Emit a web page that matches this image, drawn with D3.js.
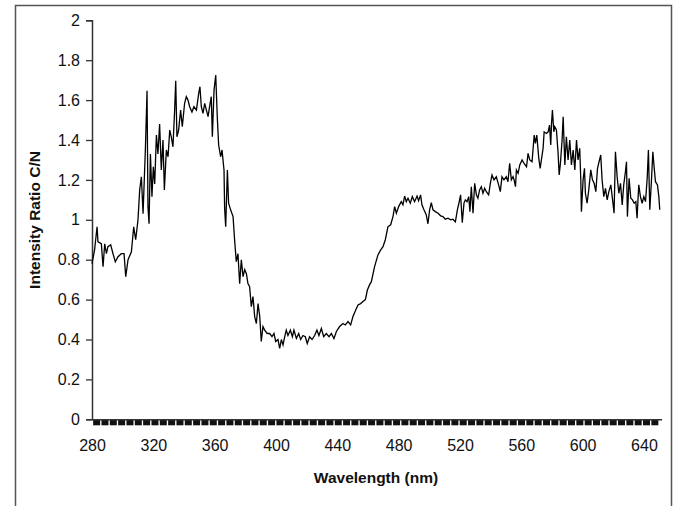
<!DOCTYPE html>
<html>
<head>
<meta charset="utf-8">
<script src="https://cdn.jsdelivr.net/npm/d3@7"></script>
<style>
  body { margin: 0; background: #fff; }
  svg { display: block; font-family: "Liberation Sans", Arial, sans-serif; }
</style>
</head>
<body>
<svg id="chart" width="675" height="506"></svg>
<script>
// C/N intensity ratio vs wavelength as [nm, ratio]
const uvBand = [
  [280.0,0.78],[281.7,0.85],[283.3,0.965],[283.9,0.89],[286.1,0.88],[287.2,0.765],[288.3,0.88],[289.4,0.83],
  [290.4,0.865],[292.2,0.875],[293.7,0.83],[295.2,0.79],[297.0,0.815],[299.1,0.83],[300.9,0.83],[302.0,0.715],
  [303.5,0.80],[305.7,0.84],[307.2,0.965],[308.5,0.90],[310.0,1.0],[311.1,1.15],[312.2,1.216],[313.3,1.03],
  [314.8,1.35],[315.9,1.647],[316.5,1.066],[317.2,0.98],[318.1,1.33],[319.1,1.116],[320.0,1.266],[320.9,1.18],
  [322.0,1.425],[323.0,1.33],[324.1,1.48],[325.2,1.25],[326.3,1.40],[327.2,1.15],[328.5,1.35],[329.6,1.316],
  [330.7,1.45],[331.7,1.416],[332.8,1.366],[333.9,1.55],[334.6,1.697],[335.4,1.416],[336.5,1.45],[337.8,1.55],
  [338.9,1.467],[340.4,1.584],[341.5,1.617],[342.6,1.60],[343.7,1.567],[345.2,1.54],[346.5,1.567],[348.1,1.55],
  [349.6,1.634],[350.4,1.667],[351.3,1.567],[352.4,1.534],[353.5,1.584],[354.6,1.55],[355.7,1.517],[356.7,1.567],
  [357.8,1.617],[358.5,1.416],[359.6,1.65],[360.7,1.726],[361.7,1.517],[362.6,1.375],[363.9,1.316],[364.8,1.35],
  [366.1,1.25],[366.5,1.058],[367.2,0.965],[368.3,1.25],[369.1,1.083],[370.4,1.05]
];

const trough = [
  [372.0,1.016],[373.0,0.90],[374.1,0.79],[375.2,0.83],[376.3,0.68],[377.4,0.80],[378.5,0.715],[379.6,0.75],
  [380.7,0.73],[381.7,0.68],[382.8,0.665],[383.9,0.565],[385.0,0.615],[386.1,0.515],[387.2,0.48],[388.3,0.58],
  [389.4,0.515],[390.4,0.39],[391.5,0.465],[392.6,0.447],[394.3,0.43],[395.9,0.43],[397.4,0.414],[398.7,0.43],
  [399.8,0.39],[401.3,0.40],[402.4,0.356],[403.5,0.40],[404.6,0.373],[405.7,0.414],[406.7,0.447],[407.8,0.42],
  [409.4,0.447],[410.7,0.414],[411.7,0.447],[413.3,0.405],[414.8,0.43],[416.1,0.40],[417.6,0.42],[419.1,0.414],
  [420.4,0.38],[421.9,0.414],[423.5,0.40],[425.2,0.42],[426.7,0.447],[428.0,0.42],[429.6,0.455],[431.1,0.414],
  [432.8,0.43],[434.6,0.414],[436.1,0.43],[437.8,0.405],[439.4,0.44],[441.5,0.465],[443.7,0.48],[445.2,0.473],
  [447.0,0.49],[448.7,0.473],[450.2,0.515],[452.0,0.548],[453.5,0.573],[455.2,0.58],[456.7,0.59],[458.3,0.60],
  [459.6,0.648],[461.1,0.675]
];

const shoulder = [
  [462.2,0.69],[464.3,0.765],[466.5,0.824],[468.3,0.849],[469.8,0.865],[471.3,0.90],[473.0,0.965],[474.8,0.975],
  [476.3,1.016],[477.4,1.066],[478.5,1.033],[480.0,1.066],[481.7,1.091],[482.8,1.075],[483.9,1.119],[485.0,1.091],
  [486.1,1.108],[487.6,1.083],[488.9,1.116],[490.4,1.091],[492.0,1.119],[493.0,1.096],[494.3,1.125],[495.2,1.075],
  [496.5,1.05],[498.0,1.025],[499.1,0.98],[500.2,1.05],[501.3,1.086],[502.4,1.05],[503.9,1.041],[505.7,1.033],
  [507.4,1.02],[508.9,1.016],[510.4,1.003],[512.2,1.008],[513.9,1.0],[515.4,1.003],[517.0,0.99],[518.3,1.05],
  [519.3,1.083],[520.4,1.125],[521.5,0.985],[522.6,1.083],[523.5,1.10],[524.6,1.091],[525.7,1.116],[526.5,1.041],
  [527.4,1.166],[528.5,1.033],[529.6,1.183],[530.7,1.125],[531.7,1.108],[532.8,1.15],[533.9,1.166],[535.0,1.133],
  [536.1,1.158],[537.2,1.141],[538.7,1.125],[539.8,1.183],[540.9,1.225],[542.2,1.2],[543.7,1.216],[545.2,1.175],
  [546.3,1.141],[547.4,1.216],[548.7,1.2],[550.2,1.216],[551.3,1.191],[552.4,1.283],[553.5,1.2],[554.6,1.216]
];

const redBand = [
  [555.3,1.2],[556.2,1.166],[556.8,1.25],[557.9,1.233],[559.0,1.275],[560.5,1.30],[561.8,1.283],[563.4,1.266],
  [564.4,1.333],[565.5,1.30],[567.0,1.291],[568.4,1.425],[569.2,1.383],[570.1,1.425],[571.4,1.308],[572.3,1.258],
  [573.1,1.30],[574.2,1.358],[574.9,1.441],[576.4,1.433],[577.5,1.441],[578.4,1.475],[579.2,1.375],[579.7,1.483],
  [580.3,1.55],[581.2,1.441],[581.8,1.466],[582.9,1.45],[584.0,1.333],[584.7,1.225],[585.5,1.283],[586.6,1.40],
  [587.3,1.516],[588.4,1.275],[589.4,1.416],[590.5,1.30],[591.6,1.40],[592.7,1.275],[593.8,1.35],[594.9,1.25],
  [596.0,1.40],[597.0,1.30],[598.1,1.358],[598.8,1.20],[599.2,1.041],[600.3,1.2],[601.2,1.258],[601.8,1.133],
  [602.9,1.083],[604.0,1.15],[605.3,1.25],[606.4,1.2],[607.5,1.183],[608.6,1.141],[609.7,1.258],[610.7,1.291],
  [611.8,1.325],[612.7,1.2],[613.8,1.116],[614.9,1.158],[616.0,1.10],[617.1,1.141],[618.4,1.175],[619.4,1.108],
  [620.5,1.033],[621.4,1.341],[622.5,1.216],[623.6,1.133],[624.7,1.183],[625.8,1.075],[626.8,1.175],[627.9,1.241],
  [628.6,1.291],[629.2,1.016],[630.3,1.208],[631.4,1.108],[632.5,1.10],[633.6,1.083],[634.7,1.091],[635.5,1.008],
  [636.6,1.175],[637.7,1.116],[638.8,1.083],[639.9,1.116],[641.0,1.091],[642.1,1.208],[642.9,1.35],[643.8,1.05],
  [644.9,1.2],[645.8,1.341],[646.6,1.266],[647.5,1.191],[648.8,1.175],[649.7,1.116],[650.3,1.05]
];

const xTickLabels = [280, 320, 360, 400, 440, 480, 520, 560, 600, 640];
const yTickLabels = [0, 0.2, 0.4, 0.6, 0.8, 1, 1.2, 1.4, 1.6, 1.8, 2];

const spectrum = uvBand.concat(trough, shoulder, redBand);

const svg = d3.select("#chart");

const x = d3.scaleLinear().domain([280, 651.5]).range([92, 661.6]);
const y = d3.scaleLinear().domain([0, 2]).range([419.3, 20.3]);

// 外框
svg.append("rect")
  .attr("x", 15.5).attr("y", 5.5)
  .attr("width", 656).attr("height", 520)
  .attr("fill", "none")
  .attr("stroke", "#555")
  .attr("stroke-width", 1.5);

// 横轴下面那一排密集的刻度
const denseTicks = d3.range(282.7, 650, 8.33 / 1.533);
const xTickBand = svg.append("g")
  .attr("transform", "translate(0,419.3)")
  .call(d3.axisBottom(x).tickValues(denseTicks).tickSize(6).tickFormat(""));
xTickBand.select(".domain").remove();
xTickBand.selectAll(".tick line").attr("stroke", "#111").attr("stroke-width", 7);

// 横轴刻度文字
const xAxis = svg.append("g")
  .attr("transform", "translate(0,419.3)")
  .call(d3.axisBottom(x).tickValues(xTickLabels).tickSize(0).tickPadding(20));
xAxis.select(".domain").attr("stroke", "#333").attr("stroke-width", 1.5);
xAxis.selectAll("text")
  .attr("fill", "#111")
  .style("font-size", "16px");

// 纵轴
const yAxis = svg.append("g")
  .attr("transform", "translate(92,0)")
  .call(d3.axisLeft(y).tickValues(yTickLabels).tickSize(6).tickPadding(6)
    .tickFormat(d => d3.format("~g")(d)));
yAxis.select(".domain").attr("stroke", "#333").attr("stroke-width", 1.5);
yAxis.selectAll(".tick line").attr("stroke", "#333").attr("stroke-width", 1.3);
yAxis.selectAll("text")
  .attr("fill", "#111")
  .style("font-size", "16px");

// 曲线
const line = d3.line()
  .x(d => x(d[0]))
  .y(d => y(d[1]));

svg.append("path")
  .datum(spectrum)
  .attr("d", line)
  .attr("fill", "none")
  .attr("stroke", "#000")
  .attr("stroke-width", 1.3)
  .attr("stroke-linejoin", "miter");

// 轴标题
svg.append("text")
  .attr("x", 376).attr("y", 483)
  .attr("text-anchor", "middle")
  .style("font-size", "15.5px")
  .style("font-weight", "bold")
  .attr("fill", "#111")
  .text("Wavelength (nm)");

svg.append("text")
  .attr("transform", "translate(40,220) rotate(-90)")
  .attr("text-anchor", "middle")
  .style("font-size", "15.5px")
  .style("font-weight", "bold")
  .attr("fill", "#111")
  .text("Intensity Ratio C/N");
</script>
</body>
</html>
